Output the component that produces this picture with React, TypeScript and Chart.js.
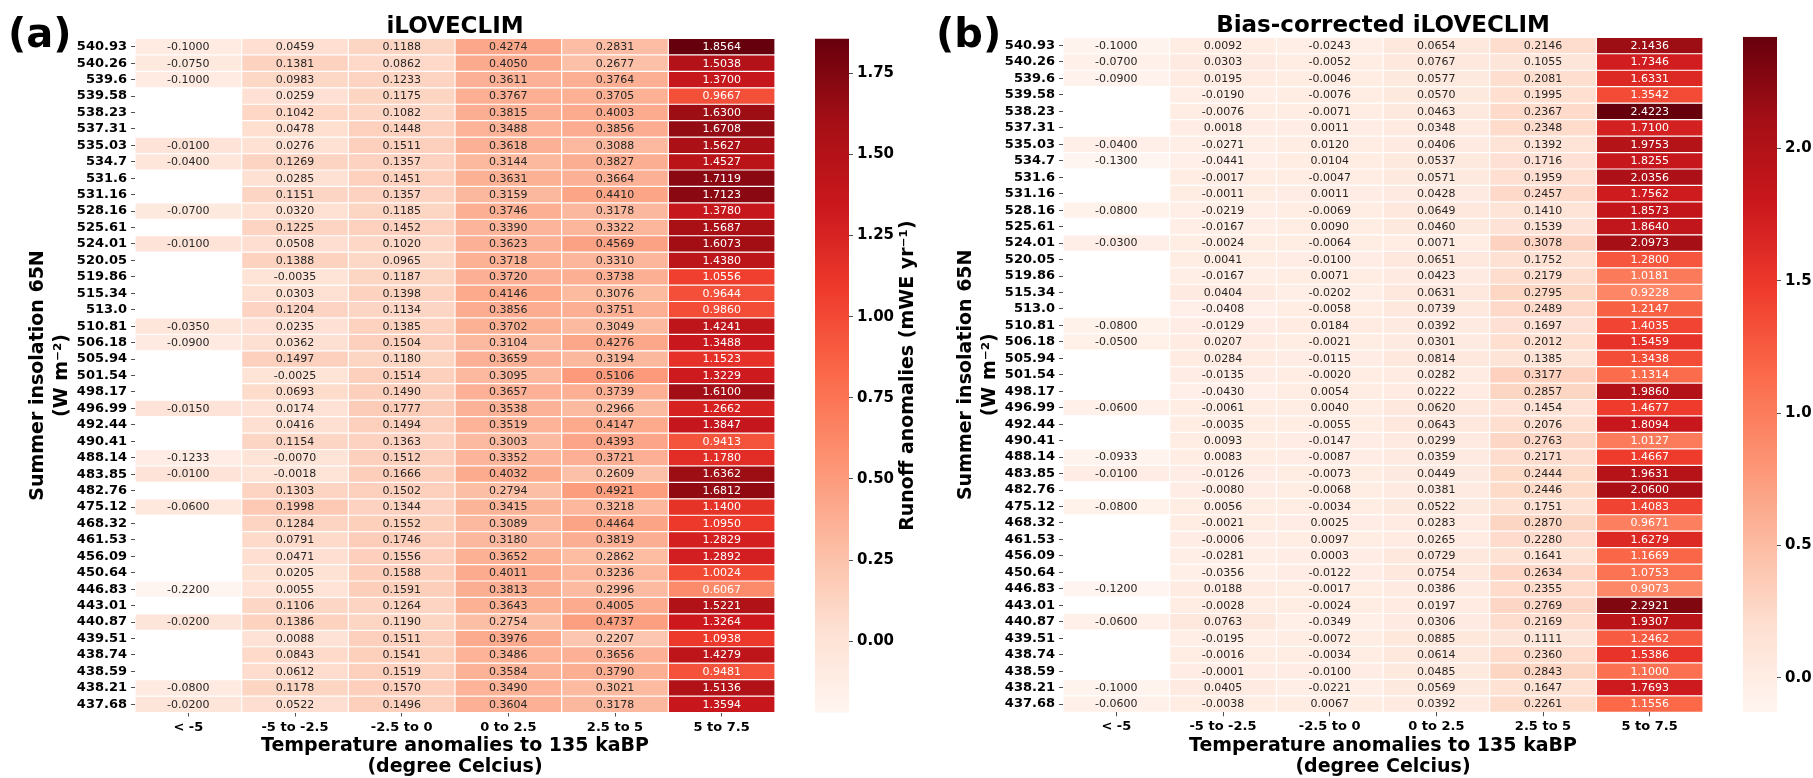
import React, { useEffect, useRef } from 'react';
import { Chart, registerables } from 'chart.js';

Chart.register(...registerables);

// ---------------- data ----------------
const insolationLabels = [
  '540.93', '540.26', '539.6', '539.58', '538.23', '537.31', '535.03', '534.7', '531.6', '531.16',
  '528.16', '525.61', '524.01', '520.05', '519.86', '515.34', '513.0', '510.81', '506.18', '505.94',
  '501.54', '498.17', '496.99', '492.44', '490.41', '488.14', '483.85', '482.76', '475.12', '468.32',
  '461.53', '456.09', '450.64', '446.83', '443.01', '440.87', '439.51', '438.74', '438.59', '438.21',
  '437.68',
];

const tempBins = ['< -5', '-5 to -2.5', '-2.5 to 0', '0 to 2.5', '2.5 to 5', '5 to 7.5'];

// Panel (a): iLOVECLIM
const aLt5 = [-0.1, -0.075, -0.1, null, null, null, -0.01, -0.04, null, null, -0.07, null, -0.01, null, null, null, null, -0.035, -0.09, null, null, null, -0.015, null, null, -0.1233, -0.01, null, -0.06, null, null, null, null, -0.22, null, -0.02, null, null, null, -0.08, -0.02];
const aM5toM25 = [0.0459, 0.1381, 0.0983, 0.0259, 0.1042, 0.0478, 0.0276, 0.1269, 0.0285, 0.1151, 0.032, 0.1225, 0.0508, 0.1388, -0.0035, 0.0303, 0.1204, 0.0235, 0.0362, 0.1497, -0.0025, 0.0693, 0.0174, 0.0416, 0.1154, -0.007, -0.0018, 0.1303, 0.1998, 0.1284, 0.0791, 0.0471, 0.0205, 0.0055, 0.1106, 0.1386, 0.0088, 0.0843, 0.0612, 0.1178, 0.0522];
const aM25to0 = [0.1188, 0.0862, 0.1233, 0.1175, 0.1082, 0.1448, 0.1511, 0.1357, 0.1451, 0.1357, 0.1185, 0.1452, 0.102, 0.0965, 0.1187, 0.1398, 0.1134, 0.1385, 0.1504, 0.118, 0.1514, 0.149, 0.1777, 0.1494, 0.1363, 0.1512, 0.1666, 0.1502, 0.1344, 0.1552, 0.1746, 0.1556, 0.1588, 0.1591, 0.1264, 0.119, 0.1511, 0.1541, 0.1519, 0.157, 0.1496];
const a0to25 = [0.4274, 0.405, 0.3611, 0.3767, 0.3815, 0.3488, 0.3618, 0.3144, 0.3631, 0.3159, 0.3746, 0.339, 0.3623, 0.3718, 0.372, 0.4146, 0.3856, 0.3702, 0.3104, 0.3659, 0.3095, 0.3657, 0.3538, 0.3519, 0.3003, 0.3352, 0.4032, 0.2794, 0.3415, 0.3089, 0.318, 0.3652, 0.4011, 0.3813, 0.3643, 0.2754, 0.3976, 0.3486, 0.3584, 0.349, 0.3604];
const a25to5 = [0.2831, 0.2677, 0.3764, 0.3705, 0.4003, 0.3856, 0.3088, 0.3827, 0.3664, 0.441, 0.3178, 0.3322, 0.4569, 0.331, 0.3738, 0.3076, 0.3751, 0.3049, 0.4276, 0.3194, 0.5106, 0.3739, 0.2966, 0.4147, 0.4393, 0.3721, 0.2609, 0.4921, 0.3218, 0.4464, 0.3819, 0.2862, 0.3236, 0.2996, 0.4005, 0.4737, 0.2207, 0.3656, 0.379, 0.3021, 0.3178];
const a5to75 = [1.8564, 1.5038, 1.37, 0.9667, 1.63, 1.6708, 1.5627, 1.4527, 1.7119, 1.7123, 1.378, 1.5687, 1.6073, 1.438, 1.0556, 0.9644, 0.986, 1.4241, 1.3488, 1.1523, 1.3229, 1.61, 1.2662, 1.3847, 0.9413, 1.178, 1.6362, 1.6812, 1.14, 1.095, 1.2829, 1.2892, 1.0024, 0.6067, 1.5221, 1.3264, 1.0938, 1.4279, 0.9481, 1.5136, 1.3594];

// Panel (b): Bias-corrected iLOVECLIM
const bLt5 = [-0.1, -0.07, -0.09, null, null, null, -0.04, -0.13, null, null, -0.08, null, -0.03, null, null, null, null, -0.08, -0.05, null, null, null, -0.06, null, null, -0.0933, -0.01, null, -0.08, null, null, null, null, -0.12, null, -0.06, null, null, null, -0.1, -0.06];
const bM5toM25 = [0.0092, 0.0303, 0.0195, -0.019, -0.0076, 0.0018, -0.0271, -0.0441, -0.0017, -0.0011, -0.0219, -0.0167, -0.0024, 0.0041, -0.0167, 0.0404, -0.0408, -0.0129, 0.0207, 0.0284, -0.0135, -0.043, -0.0061, -0.0035, 0.0093, 0.0083, -0.0126, -0.008, 0.0056, -0.0021, -0.0006, -0.0281, -0.0356, 0.0188, -0.0028, 0.0763, -0.0195, -0.0016, -0.0001, 0.0405, -0.0038];
const bM25to0 = [-0.0243, -0.0052, -0.0046, -0.0076, -0.0071, 0.0011, 0.012, 0.0104, -0.0047, 0.0011, -0.0069, 0.009, -0.0064, -0.01, 0.0071, -0.0202, -0.0058, 0.0184, -0.0021, -0.0115, -0.002, 0.0054, 0.004, -0.0055, -0.0147, -0.0087, -0.0073, -0.0068, -0.0034, 0.0025, 0.0097, 0.0003, -0.0122, -0.0017, -0.0024, -0.0349, -0.0072, -0.0034, -0.01, -0.0221, 0.0067];
const b0to25 = [0.0654, 0.0767, 0.0577, 0.057, 0.0463, 0.0348, 0.0406, 0.0537, 0.0571, 0.0428, 0.0649, 0.046, 0.0071, 0.0651, 0.0423, 0.0631, 0.0739, 0.0392, 0.0301, 0.0814, 0.0282, 0.0222, 0.062, 0.0643, 0.0299, 0.0359, 0.0449, 0.0381, 0.0522, 0.0283, 0.0265, 0.0729, 0.0754, 0.0386, 0.0197, 0.0306, 0.0885, 0.0614, 0.0485, 0.0569, 0.0392];
const b25to5 = [0.2146, 0.1055, 0.2081, 0.1995, 0.2367, 0.2348, 0.1392, 0.1716, 0.1959, 0.2457, 0.141, 0.1539, 0.3078, 0.1752, 0.2179, 0.2795, 0.2489, 0.1697, 0.2012, 0.1385, 0.3177, 0.2857, 0.1454, 0.2076, 0.2763, 0.2171, 0.2444, 0.2446, 0.1751, 0.287, 0.228, 0.1641, 0.2634, 0.2355, 0.2769, 0.2169, 0.1111, 0.236, 0.2843, 0.1647, 0.2261];
const b5to75 = [2.1436, 1.7346, 1.6331, 1.3542, 2.4223, 1.71, 1.9753, 1.8255, 2.0356, 1.7562, 1.8573, 1.864, 2.0973, 1.28, 1.0181, 0.9228, 1.2147, 1.4035, 1.5459, 1.3438, 1.1314, 1.986, 1.4677, 1.8094, 1.0127, 1.4667, 1.9631, 2.06, 1.4083, 0.9671, 1.6279, 1.1669, 1.0753, 0.9073, 2.2921, 1.9307, 1.2462, 1.5386, 1.1, 1.7693, 1.1556];

const colorbarTicksA = [0, 0.25, 0.5, 0.75, 1.0, 1.25, 1.5, 1.75];
const colorbarTicksB = [0, 0.5, 1.0, 1.5, 2.0];

const yTitle = ['Summer insolation 65N', '(W m\u207B\u00B2)'];
const xTitle = ['Temperature anomalies to 135 kaBP', '(degree Celcius)'];
const cbarTitleA = 'Runoff anomalies (mWE yr\u207B\u00B9)';

// matplotlib "Reds"
const REDS: number[][] = [
  [255, 245, 240], [254, 224, 210], [252, 187, 161], [252, 146, 114], [251, 106, 74],
  [239, 59, 44], [203, 24, 29], [165, 15, 21], [103, 0, 13],
];

const FONT = '"DejaVu Sans", sans-serif';

function reds(t: number): number[] {
  const tt = Math.max(0, Math.min(1, t)) * (REDS.length - 1);
  const i = Math.min(REDS.length - 2, Math.floor(tt));
  const f = tt - i;
  return [0, 1, 2].map((k) => REDS[i][k] + (REDS[i + 1][k] - REDS[i][k]) * f);
}
const css = (c: number[]) => `rgb(${Math.round(c[0])},${Math.round(c[1])},${Math.round(c[2])})`;
function relLum(c: number[]) {
  const f = (v: number) => {
    const x = v / 255;
    return x <= 0.03928 ? x / 12.92 : Math.pow((x + 0.055) / 1.055, 2.4);
  };
  return 0.2126 * f(c[0]) + 0.7152 * f(c[1]) + 0.0722 * f(c[2]);
}
function extent(cols: (number | null)[][]) {
  const all = cols.flat().filter((v) => v != null) as number[];
  return [Math.min(...all), Math.max(...all)];
}

const tickGrid = {
  display: true,
  drawOnChartArea: false,
  drawTicks: true,
  tickLength: 4,
  color: '#222',
  lineWidth: 0.8,
};

function buildHeatmap(
  canvas: HTMLCanvasElement,
  cols: (number | null)[][],
  opt: { title: string; tag: string; top: number; bottom: number; height: number }
) {
  const [vmin, vmax] = extent(cols);
  const colorOf = (v: number) => reds((v - vmin) / (vmax - vmin));

  const datasets = cols.map((col, j) => ({
    label: tempBins[j],
    data: col.map((v) => (v == null ? null : [j, j + 1])),
    backgroundColor: col.map((v) => (v == null ? 'rgba(0,0,0,0)' : css(colorOf(v)))),
    borderColor: '#ffffff',
    borderWidth: 0.6,
    borderSkipped: false,
    inflateAmount: 0,
    grouped: false,
    barPercentage: 1,
    categoryPercentage: 1,
  }));

  const cellText = {
    id: 'cellText',
    afterDatasetsDraw(chart: any) {
      const ctx = chart.ctx;
      ctx.save();
      ctx.font = `11px ${FONT}`;
      ctx.textAlign = 'center';
      ctx.textBaseline = 'middle';
      cols.forEach((col, j) => {
        const meta = chart.getDatasetMeta(j);
        col.forEach((v, i) => {
          if (v == null) return;
          const el = meta.data[i];
          if (!el) return;
          const p = el.getProps(['x', 'y', 'base'], true);
          ctx.fillStyle = relLum(colorOf(v)) > 0.408 ? '#262626' : '#ffffff';
          ctx.fillText(v.toFixed(4), (p.x + p.base) / 2, p.y + 0.5);
        });
      });
      ctx.restore();
    },
  };

  const panelText = {
    id: 'panelText',
    afterDraw(chart: any) {
      const { ctx, chartArea } = chart;
      ctx.save();
      ctx.fillStyle = '#000';
      ctx.textBaseline = 'alphabetic';
      ctx.font = `bold 23px ${FONT}`;
      ctx.textAlign = 'center';
      ctx.fillText(opt.title, (chartArea.left + chartArea.right) / 2, chartArea.top - 5.5);
      ctx.font = `bold 40px ${FONT}`;
      ctx.textAlign = 'left';
      ctx.fillText(opt.tag, 8, 47);
      ctx.restore();
    },
  };

  return new Chart(canvas, {
    type: 'bar',
    data: { labels: insolationLabels, datasets: datasets as any },
    options: {
      indexAxis: 'y',
      responsive: false,
      animation: false,
      events: [],
      layout: { padding: { top: opt.top, right: 15, left: 0, bottom: 0 } },
      plugins: { legend: { display: false }, tooltip: { enabled: false }, title: { display: false } },
      scales: {
        y: {
          type: 'category',
          offset: true,
          afterFit: (s: any) => {
            s.width = 135;
          },
          grid: { ...tickGrid, offset: false },
          border: { display: false },
          ticks: { autoSkip: false, padding: 4, color: '#000', font: { family: FONT, size: 13, weight: 'bold' } },
          title: {
            display: true,
            text: yTitle,
            color: '#000',
            font: { family: FONT, size: 19, weight: 'bold', lineHeight: 1.25 },
            padding: { top: 26, bottom: 0 },
          },
        },
        x: {
          type: 'linear',
          min: 0,
          max: 6,
          afterBuildTicks: (s: any) => {
            s.ticks = tempBins.map((_, i) => ({ value: i + 0.5 }));
          },
          afterFit: (s: any) => {
            s.height = opt.height - opt.bottom;
          },
          grid: tickGrid,
          border: { display: false },
          ticks: {
            autoSkip: false,
            maxRotation: 0,
            padding: 3,
            color: '#000',
            font: { family: FONT, size: 13, weight: 'bold' },
            callback: (v: any) => tempBins[Math.floor(Number(v))],
          },
          title: {
            display: true,
            text: xTitle,
            color: '#000',
            font: { family: FONT, size: 19, weight: 'bold', lineHeight: 1.105 },
            padding: { top: 0, bottom: 0.5 },
          },
        },
      },
    } as any,
    plugins: [cellText, panelText],
  });
}

function buildColorbar(
  canvas: HTMLCanvasElement,
  cols: (number | null)[][],
  opt: { ticks: number[]; decimals: number; top: number; bottom: number; height: number; axisWidth: number; label?: string }
) {
  const [vmin, vmax] = extent(cols);

  const labelPlugin = {
    id: 'cbarLabel',
    afterDraw(chart: any) {
      if (!opt.label) return;
      const { ctx, chartArea } = chart;
      ctx.save();
      ctx.translate(chartArea.right + 59, (chartArea.top + chartArea.bottom) / 2);
      ctx.rotate(-Math.PI / 2);
      ctx.font = `bold 19px ${FONT}`;
      ctx.fillStyle = '#000';
      ctx.textAlign = 'center';
      ctx.textBaseline = 'middle';
      ctx.fillText(opt.label, 0, 0);
      ctx.restore();
    },
  };

  return new Chart(canvas, {
    type: 'bar',
    data: {
      labels: [''],
      datasets: [
        {
          data: [[vmin, vmax]] as any,
          backgroundColor: (c: any) => {
            const chart = c.chart;
            const ys = chart.scales && chart.scales.y;
            if (!ys || !chart.chartArea) return css(REDS[4]);
            const g = chart.ctx.createLinearGradient(0, ys.getPixelForValue(vmin), 0, ys.getPixelForValue(vmax));
            REDS.forEach((s, i) => g.addColorStop(i / (REDS.length - 1), css(s)));
            return g;
          },
          borderWidth: 0,
          inflateAmount: 0,
          barPercentage: 1,
          categoryPercentage: 1,
        } as any,
      ],
    },
    options: {
      responsive: false,
      animation: false,
      events: [],
      layout: { padding: { top: opt.top, bottom: opt.height - opt.bottom, left: 0, right: 0 } },
      plugins: { legend: { display: false }, tooltip: { enabled: false } },
      scales: {
        x: { type: 'category', display: false, offset: true },
        y: {
          type: 'linear',
          position: 'right',
          min: vmin,
          max: vmax,
          afterBuildTicks: (s: any) => {
            s.ticks = opt.ticks.map((v) => ({ value: v }));
          },
          afterFit: (s: any) => {
            s.width = opt.axisWidth;
          },
          grid: tickGrid,
          border: { display: false },
          ticks: {
            padding: 4,
            color: '#000',
            font: { family: FONT, size: 15, weight: 'bold' },
            callback: (v: any) => Number(v).toFixed(opt.decimals),
          },
        },
      },
    } as any,
    plugins: [labelPlugin],
  });
}

const colsA = [aLt5, aM5toM25, aM25to0, a0to25, a25to5, a5to75];
const colsB = [bLt5, bM5toM25, bM25to0, b0to25, b25to5, b5to75];

export default function App() {
  const heatA = useRef<HTMLCanvasElement>(null);
  const cbarA = useRef<HTMLCanvasElement>(null);
  const heatB = useRef<HTMLCanvasElement>(null);
  const cbarB = useRef<HTMLCanvasElement>(null);

  useEffect(() => {
    Chart.defaults.font.family = FONT;
    const charts: Chart[] = [];
    if (heatA.current)
      charts.push(buildHeatmap(heatA.current, colsA, { title: 'iLOVECLIM', tag: '(a)', top: 38.5, bottom: 712.5, height: 778 }));
    if (cbarA.current)
      charts.push(
        buildColorbar(cbarA.current, colsA, {
          ticks: colorbarTicksA, decimals: 2, top: 38.5, bottom: 712.8, height: 778, axisWidth: 76, label: cbarTitleA,
        })
      );
    if (heatB.current)
      charts.push(
        buildHeatmap(heatB.current, colsB, { title: 'Bias-corrected iLOVECLIM', tag: '(b)', top: 37.3, bottom: 712.3, height: 778 })
      );
    if (cbarB.current)
      charts.push(
        buildColorbar(cbarB.current, colsB, {
          ticks: colorbarTicksB, decimals: 1, top: 36.7, bottom: 712.3, height: 778, axisWidth: 36,
        })
      );
    return () => charts.forEach((c) => c.destroy());
  }, []);

  const abs = (left: number, width: number): React.CSSProperties => ({
    position: 'absolute', left, top: 0, width, height: 778, display: 'block',
  });

  return (
    <div style={{ position: 'absolute', left: 0, top: 0, width: 1813, height: 778, background: '#ffffff', overflow: 'hidden' }}>
      <canvas ref={heatA} width={790} height={778} style={abs(0, 790)} />
      <canvas ref={cbarA} width={110} height={778} style={abs(815, 110)} />
      <canvas ref={heatB} width={790} height={778} style={abs(928, 790)} />
      <canvas ref={cbarB} width={70} height={778} style={abs(1743, 70)} />
    </div>
  );
}
